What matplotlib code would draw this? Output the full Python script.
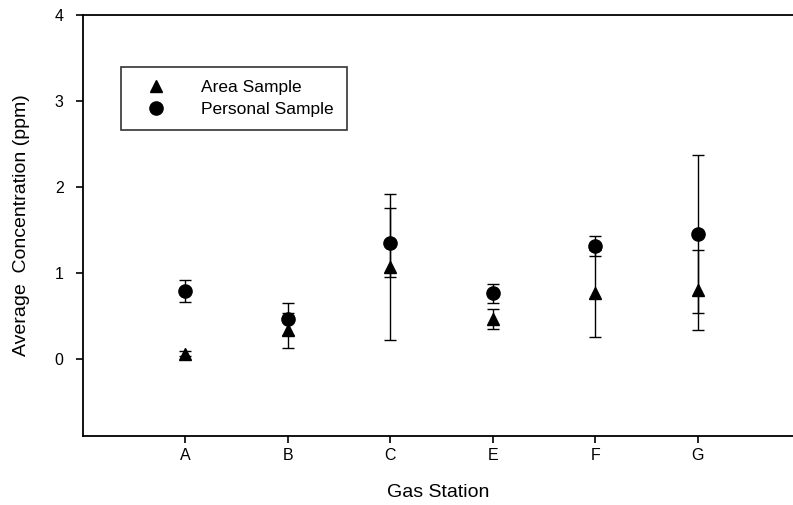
import matplotlib
matplotlib.use("Agg")
import matplotlib.pyplot as plt

plt.rcParams['font.family'] = ['Liberation Sans', 'DejaVu Sans']

stations = ['A', 'B', 'C', 'E', 'F', 'G']
area_mean = [0.06, 0.33, 1.07, 0.46, 0.76, 0.80]
area_sd = [0.03, 0.20, 0.85, 0.12, 0.51, 0.47]
personal_mean = [0.79, 0.46, 1.35, 0.76, 1.31, 1.45]
personal_sd = [0.125, 0.19, 0.40, 0.11, 0.12, 0.92]

x = list(range(1, len(stations) + 1))

fig = plt.figure(figsize=(7.93, 5.05), dpi=100)
ax = fig.add_axes([0.1047, 0.1366, 0.8953, 0.8337])

eb1 = ax.errorbar(x, area_mean, yerr=area_sd, fmt='^', color='black', ms=9,
                  capsize=4, elinewidth=1, capthick=1)
eb2 = ax.errorbar(x, personal_mean, yerr=personal_sd, fmt='o', color='black', ms=9.5,
                  capsize=4, elinewidth=1, capthick=1)

ax.set_xlim(0, 6.93)
ax.set_ylim(-0.9, 4)
ax.set_xticks(x)
ax.set_xticklabels(stations)
ax.set_yticks([0, 1, 2, 3, 4])
ax.tick_params(direction='out', length=5, width=1.2, labelsize=11.5)
ax.tick_params(axis='y', pad=9)
ax.spines['right'].set_visible(False)
for s in ['left', 'bottom', 'top']:
    ax.spines[s].set_linewidth(1.3)

ax.set_xlabel('Gas Station', fontsize=14, labelpad=15)
ax.set_ylabel('Average  Concentration (ppm)', fontsize=14, labelpad=18)

leg = ax.legend([eb1[0], eb2[0]], ['Area Sample', 'Personal Sample'],
                loc='upper left', bbox_to_anchor=(0.053, 0.876), frameon=True,
                fancybox=False, edgecolor='black', fontsize=12.5, handletextpad=1.3,
                handlelength=2.6, borderpad=0.75, labelspacing=0.35, borderaxespad=0)
leg.get_frame().set_linewidth(1.2)

fig.savefig('out.png', dpi=100)
